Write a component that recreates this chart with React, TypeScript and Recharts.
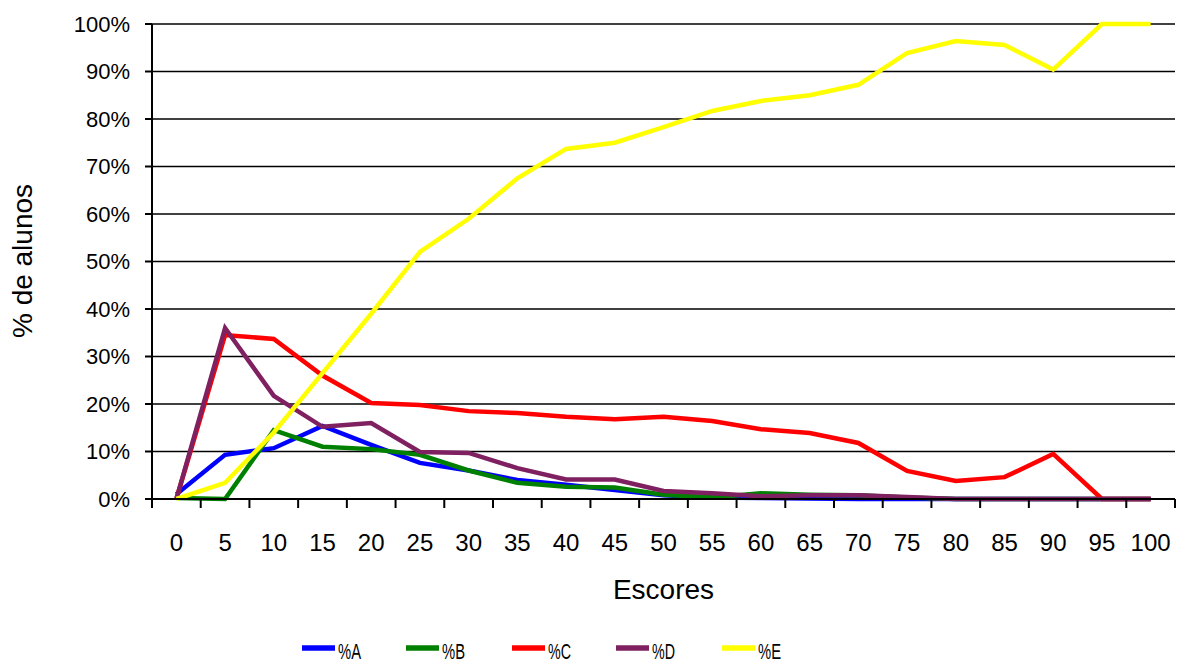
import React from 'react';
import { LineChart, Line, XAxis, YAxis, CartesianGrid, Legend, Label } from 'recharts';

const scores = [0, 5, 10, 15, 20, 25, 30, 35, 40, 45, 50, 55, 60, 65, 70, 75, 80, 85, 90, 95, 100];
const pctA = [1, 9.3, 10.7, 15.4, 11.4, 7.6, 6, 4, 3, 1.9, 0.8, 0.3, 0.2, 0.1, 0, 0, 0, 0, 0, 0, 0];
const pctB = [0.2, 0, 14.5, 11, 10.5, 9.3, 6, 3.4, 2.6, 2.4, 0.9, 0.3, 1.2, 0.9, 0.8, 0.3, 0, 0, 0, 0, 0];
const pctC = [0, 34.5, 33.7, 26, 20.2, 19.8, 18.5, 18.1, 17.3, 16.8, 17.3, 16.4, 14.7, 13.9, 11.8, 5.9, 3.8, 4.6, 9.5, 0, 0];
const pctD = [0, 36, 21.7, 15.2, 16, 9.9, 9.7, 6.5, 4.1, 4.1, 1.7, 1.2, 0.6, 0.8, 0.8, 0.4, 0, 0, 0, 0, 0];
const pctE = [0, 3.4, 14, 26.5, 39, 52, 59, 67.5, 73.7, 75, 78.3, 81.7, 83.8, 85, 87.2, 93.9, 96.4, 95.6, 90.4, 100, 100];
const yTicks = [0, 10, 20, 30, 40, 50, 60, 70, 80, 90, 100];

const seriesNames = ['%A', '%B', '%C', '%D', '%E'];
const seriesKeys = ['A', 'B', 'C', 'D', 'E'];
const seriesColors = ['#0000FF', '#008000', '#FF0000', '#7F2060', '#FFFF00'];

const data = scores.map((s, i) => ({
  score: s,
  A: pctA[i],
  B: pctB[i],
  C: pctC[i],
  D: pctD[i],
  E: pctE[i],
}));

const W = 1180;
const H = 664;
const PLOT_LEFT = 152;
const PLOT_RIGHT = 1175;
const HALF_BAND = (PLOT_RIGHT - PLOT_LEFT) / scores.length / 2;
const FONT = '"Liberation Sans", Arial, sans-serif';
const OLIVE = '#A8A878';

const XTick = (props: any) => {
  const { x, y, payload, index } = props;
  const last = index === scores.length - 1;
  return (
    <g>
      <line x1={x - HALF_BAND} x2={x - HALF_BAND} y1={y} y2={y + 9} stroke="#000" strokeWidth={2} />
      {last && <line x1={x + HALF_BAND} x2={x + HALF_BAND} y1={y} y2={y + 9} stroke="#000" strokeWidth={2} />}
      <text x={x} y={y + 52} textAnchor="middle" fontSize={24} fontFamily={FONT} fill="#000">
        {payload.value}
      </text>
    </g>
  );
};

const LEGEND_X = [302, 406, 512, 616, 722];

const LegendContent = () => (
  <svg width={W} height={28} style={{ display: 'block' }}>
    {seriesNames.map((n, i) => (
      <g key={n}>
        <line x1={LEGEND_X[i]} x2={LEGEND_X[i] + 33} y1={12} y2={12} stroke={seriesColors[i]} strokeWidth={5.5} />
        <text
          x={LEGEND_X[i] + 36}
          y={23}
          fontSize={22}
          fontFamily={FONT}
          fill="#000"
          textLength={23}
          lengthAdjust="spacingAndGlyphs"
        >
          {n}
        </text>
      </g>
    ))}
  </svg>
);

export default function App() {
  return (
    <div style={{ width: W, height: H, background: '#fff' }}>
      <style>{'body{margin:0;}'}</style>
      <LineChart width={W} height={H} data={data} margin={{ top: 24, right: 5, bottom: 65, left: 0 }}>
        <CartesianGrid vertical={false} stroke="#000" strokeWidth={1.5} />
        <XAxis
          dataKey="score"
          type="category"
          padding={{ left: HALF_BAND, right: HALF_BAND }}
          height={100}
          tickSize={0}
          tickMargin={0}
          tickLine={false}
          interval={0}
          axisLine={{ stroke: '#000', strokeWidth: 2 }}
          tick={<XTick />}
        >
          <Label
            content={() => (
              <text x={(PLOT_LEFT + PLOT_RIGHT) / 2} y={599} textAnchor="middle" fontSize={28} fontFamily={FONT} fill="#000">
                Escores
              </text>
            )}
          />
        </XAxis>
        <XAxis
          xAxisId="top"
          dataKey="score"
          orientation="top"
          height={0}
          tick={false}
          tickLine={false}
          axisLine={{ stroke: OLIVE, strokeWidth: 2 }}
        />
        <YAxis
          domain={[0, 100]}
          ticks={yTicks}
          width={PLOT_LEFT}
          tickSize={7}
          tickMargin={15}
          tickFormatter={(v: number) => `${v}%`}
          tick={{ fontSize: 22, fontFamily: FONT, fill: '#000' }}
          tickLine={{ stroke: '#000', strokeWidth: 2 }}
          axisLine={{ stroke: '#000', strokeWidth: 2 }}
          interval={0}
        >
          <Label
            content={() => (
              <text
                x={22}
                y={261}
                transform="rotate(-90, 22, 261)"
                textAnchor="middle"
                dominantBaseline="central"
                fontSize={28}
                fontFamily={FONT}
                fill="#000"
              >
                % de alunos
              </text>
            )}
          />
        </YAxis>
        <YAxis
          yAxisId="right"
          orientation="right"
          width={0}
          domain={[0, 100]}
          tick={false}
          tickLine={false}
          axisLine={{ stroke: OLIVE, strokeWidth: 2 }}
        />
        {seriesKeys.map((k, i) => (
          <Line
            key={k}
            dataKey={k}
            name={seriesNames[i]}
            type="linear"
            stroke={seriesColors[i]}
            strokeWidth={4.5}
            dot={false}
            activeDot={false}
            isAnimationActive={false}
          />
        ))}
        <Legend
          layout="horizontal"
          align="center"
          verticalAlign="middle"
          content={<LegendContent />}
          wrapperStyle={{ top: 636, left: 0, width: W }}
        />
      </LineChart>
    </div>
  );
}
